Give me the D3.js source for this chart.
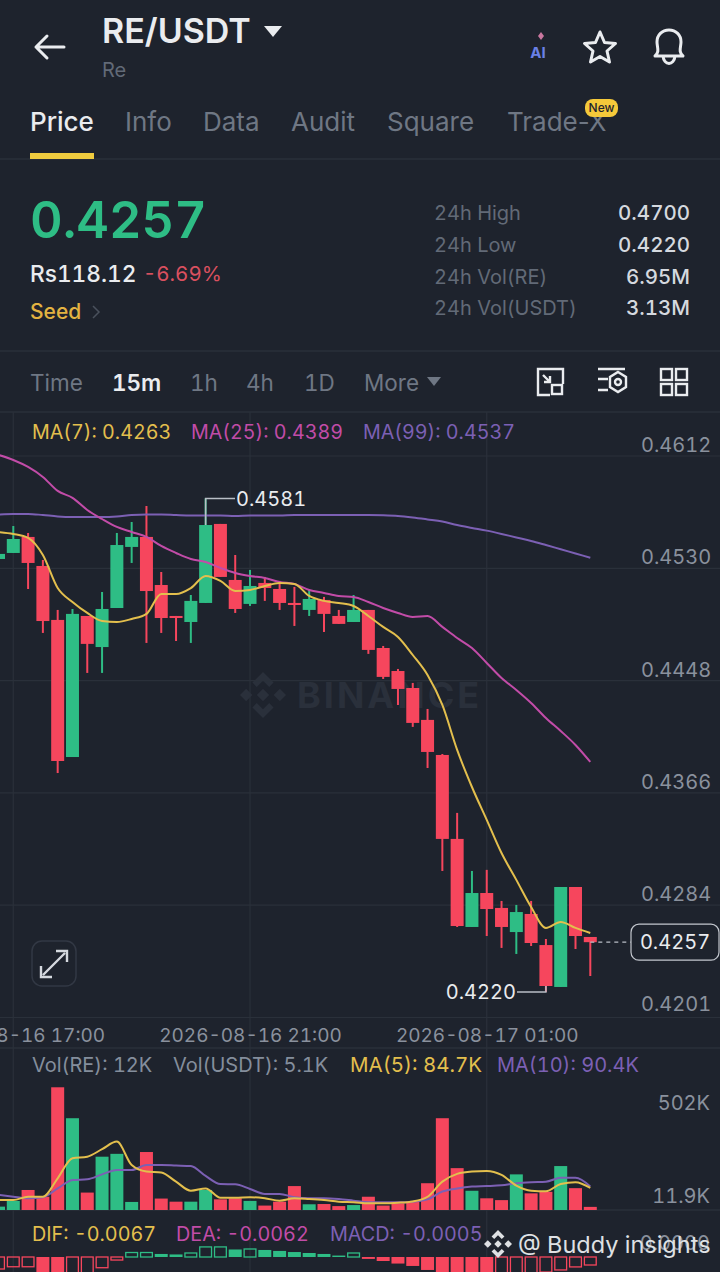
<!DOCTYPE html>
<html>
<head>
<meta charset="utf-8">
<script src="https://cdnjs.cloudflare.com/ajax/libs/d3/7.8.5/d3.min.js"></script>
<style>
html, body { margin: 0; padding: 0; background: #1e232d; overflow: hidden; }
svg { display: block; }
text { font-family: Inter, "Noto Sans", sans-serif; font-variant-numeric: tabular-nums; }
</style>
</head>
<body>
<div id="chart"></div>
<script>
// candles, 15m each
var opens = [.45368,.45412,.45529,.45317,.44923,.43922,.44952,.44725,.45010,.45456,.45529,.45178,.44952,.44908,.45047,.45624,.45215,.45040,.45193,.45149,.45047,.44996,.45069,.44952,.44908,.44996,.44718,.44550,.44426,.44193,.43937,.43324,.42681,.42929,.42820,.42644,.42776,.42549,.42243,.42973,.42608];
var closes = [.45405,.45514,.45339,.44915,.43893,.44967,.44748,.45003,.45470,.45529,.45134,.44937,.44937,.45062,.45616,.45237,.45003,.45171,.45156,.45047,.45032,.45076,.44967,.44894,.44996,.44704,.44507,.44419,.44171,.43959,.43324,.42688,.42929,.42812,.42681,.42790,.42564,.42250,.42973,.42615,.42570];
var highs = [.45419,.45609,.45558,.45361,.44996,.45003,.44952,.45127,.45558,.45638,.45755,.45273,.44952,.45105,.45810,.45624,.45397,.45288,.45237,.45208,.45164,.45142,.45091,.44996,.45105,.44996,.44733,.44565,.44463,.44273,.43944,.43514,.43090,.43098,.42871,.42842,.42871,.42593,.42973,.42973,.42608];
var lows = [.45354,.45412,.45149,.44828,.43805,.43922,.44536,.44536,.45010,.45339,.44755,.44828,.44769,.44755,.45047,.45237,.44974,.45025,.45062,.44996,.44879,.44952,.44835,.44894,.44908,.44675,.44492,.44302,.44142,.43842,.43090,.42681,.42681,.42615,.42528,.42484,.42542,.42206,.42243,.42520,.42323];

var ma7 = [.45565,.45551,.45522,.45397,.45156,.45054,.44974,.44915,.44908,.44930,.44967,.45113,.45113,.45156,.45244,.45208,.45134,.45142,.45171,.45193,.45186,.45098,.45062,.45047,.45025,.44952,.44872,.44799,.44667,.44521,.44302,.43974,.43703,.43463,.43221,.43025,.42827,.42674,.42718,.42674,.42637];
var ma25 = [.46128,.46091,.46040,.45967,.45865,.45814,.45726,.45660,.45602,.45565,.45529,.45463,.45412,.45368,.45346,.45302,.45266,.45244,.45229,.45200,.45186,.45142,.45120,.45098,.45091,.45054,.45010,.44974,.44945,.44952,.44872,.44791,.44718,.44609,.44499,.44412,.44317,.44207,.44112,.44010,.43886];
var ma99 = [.45693,.45697,.45697,.45689,.45679,.45675,.45675,.45675,.45679,.45689,.45693,.45693,.45689,.45686,.45686,.45686,.45682,.45686,.45686,.45686,.45689,.45689,.45689,.45689,.45689,.45689,.45687,.45682,.45671,.45657,.45642,.45616,.45595,.45575,.45551,.45525,.45500,.45470,.45439,.45408,.45377];

// volume in K
var volumes = [13,35,77,51,472,353,67,205,216,31,223,44,32,32,77,41,45,35,17,32,92,22,23,15,19,51,17,26,32,103,353,161,74,45,38,137,64,70,169,84,12];
var volMa5 = [38.5,38.5,51,51,122,199,205,234,263,173,148,144,109,74,83,47,47,49,45,36,45,42,38,32,30,26,26,28,33,51,109,139,148,150,135,94,74,72,100,107,84.7];
var volMa10 = [58,51,45,49,83,115,118,137,154,154,173,173,171,169,131,100,99,81,62,62,49,45,45,42,36,30,30,30,32,41,71,83,90,92,95,103,107,109,124,124,90.4];

var macdHist = [-.00075,-.00061,-.00061,-.00094,-.00113,-.00106,-.00100,-.00067,-.00019,.00028,.00028,.00019,.00016,.00025,.00063,.00063,.00047,.00050,.00044,.00038,.00031,.00025,.00019,.00009,.00025,-.00012,-.00025,-.00041,-.00056,-.00081,-.00094,-.00106,-.00113,-.00119,-.00113,-.00106,-.00100,-.00094,-.00081,-.00062,-.00050];

var priceTicks = [.4612,.4530,.4448,.4366,.4284,.4202];
var priceTickLabels = ["0.4612","0.4530","0.4448","0.4366","0.4284","0.4201"];
var volTickLabels = ["502K","11.9K"];
var timeTicks = ["2026-08-16T17:00Z","2026-08-16T21:00Z","2026-08-17T01:00Z"].map(function(d) { return new Date(d); });
var startTime = new Date("2026-08-16T16:45Z");
var times = opens.map(function(d, i) { return d3.utcMinute.offset(startTime, 15 * i); });

var tabs = ["Price","Info","Data","Audit","Square","Trade-X"];
var tabX = [30,125,203,291,387,507];
var intervals = ["Time","15m","1h","4h","1D","More"];
var intervalX = [30,112,190,246,304,364];
var statLabels = ["24h High","24h Low","24h Vol(RE)","24h Vol(USDT)"];
var statValues = ["0.4700","0.4220","6.95M","3.13M"];

var bg = "#1e232d", grid = "#2a303a", up = "#2ebd85", down = "#f6465d";
var cYellow = "#e3bf4d", cPink = "#c24ca8", cPurple = "#7c60b4", cGrey = "#848e9c", cDim = "#626a77", cAxis = "#8a919d";
var w = 720, h = 1272, candleW = 13;

var svg = d3.select("#chart").append("svg").attr("width", w).attr("height", h);
svg.append("rect").attr("width", w).attr("height", h).attr("fill", bg);

function txt(x, y, s, size, fill, weight, anchor) {
    return svg.append("text")
        .attr("x", x).attr("y", y)
        .attr("dy", "0.36em")
        .attr("font-size", size)
        .attr("fill", fill)
        .attr("font-weight", weight || 400)
        .attr("text-anchor", anchor || "start")
        .text(s);
}
function hline(y) {
    svg.append("line").attr("x1", 0).attr("x2", w).attr("y1", y).attr("y2", y).attr("stroke", grid).attr("stroke-width", 1.5);
}
// binance diamond mark, r is half its height
function logo(g, cx, cy, r) {
    var shapes = [
        [[0,-.27],[.27,0],[0,.27],[-.27,0]],
        [[-.73,-.27],[-.46,0],[-.73,.27],[-1,0]],
        [[.73,-.27],[1,0],[.73,.27],[.46,0]],
        [[0,-1],[.46,-.54],[.27,-.35],[0,-.62],[-.27,-.35],[-.46,-.54]],
        [[0,1],[.46,.54],[.27,.35],[0,.62],[-.27,.35],[-.46,.54]]
    ];
    shapes.forEach(function(s) {
        g.append("path").attr("d", d3.line().x(function(p) { return cx + p[0] * r; }).y(function(p) { return cy + p[1] * r; })(s) + "Z");
    });
}

// header
var icons = svg.append("g").attr("fill", "none").attr("stroke", "#eaecef").attr("stroke-width", 3).attr("stroke-linecap", "round").attr("stroke-linejoin", "round");
icons.append("path").attr("d", "M64 47H36M47 36L36 47L47 58");
txt(102, 31, "RE/USDT", 34, "#eaecef", 600);
svg.append("path").attr("d", "M264 26H282L273 37Z").attr("fill", "#eaecef");
txt(102, 70, "Re", 20, cDim);
txt(538, 53, "AI", 15, "#6a80e6", 700, "middle");
svg.append("path").attr("d", "M541 32L544 36L541 40L538 36Z").attr("fill", "#c9779f");
icons.append("path").attr("d", "M600 32L604.5 42.5L615.5 43.5L607 51L609.5 62L600 56.5L590.5 62L593 51L584.5 43.5L595.5 42.5Z");
icons.append("path").attr("d", "M655 56C660 52 657 47 657 42C657 35 662 30 669 30C676 30 681 35 681 42C681 47 678 52 683 56ZM663 56C664 66 674 66 675 56");

tabs.forEach(function(t, i) {
    txt(tabX[i], 122, t, 26, i == 0 ? "#eaecef" : "#6f7784", i == 0 ? 500 : 400)
        .style("font-variant-numeric", "normal");
});
svg.append("rect").attr("x", 585).attr("y", 99).attr("width", 33).attr("height", 18).attr("rx", 8).attr("fill", "#f5c93a");
txt(601.5, 108, "New", 12, "#1e232d", 500, "middle");
hline(159);
svg.append("rect").attr("x", 30).attr("y", 153).attr("width", 64).attr("height", 6).attr("fill", "#f0cc3f");

// price block
txt(30, 220, "0.4257", 50.5, up, 600);
txt(30, 274, "Rs118.12", 22.7, "#eaecef", 500);
txt(143, 274, "-6.69%", 20.5, "#d9505f");
txt(30, 311, "Seed", 21, "#e3b341", 500);
svg.append("path").attr("d", "M93 306L99 312L93 318").attr("fill", "none").attr("stroke", "#4a515c").attr("stroke-width", 1.5);
statLabels.forEach(function(t, i) {
    var yy = 213 + i * 31.7;
    txt(434, yy, t, 20, cDim);
    txt(690, yy, statValues[i], 20.5, "#d5d9df", 500, "end");
});
hline(351);

// interval row
intervals.forEach(function(t, i) {
    txt(intervalX[i], 383, t, 22.5, i == 1 ? "#eaecef" : "#6f7784", i == 1 ? 600 : 400);
});
svg.append("path").attr("d", "M427 377H441L434 386Z").attr("fill", "#6f7784");
var tools = svg.append("g").attr("fill", "none").attr("stroke", "#eaecef").attr("stroke-width", 2.4);
tools.append("path").attr("d", "M550 395H538V369H563V384M543 375L550 382M550 376V382H544");
tools.append("rect").attr("x", 552).attr("y", 385).attr("width", 10).attr("height", 9);
tools.append("path").attr("d", "M598 369H625M598 379H608M598 390H608");
tools.append("path").attr("d", "M618 372L626 377V387L618 392L610 387V377Z");
tools.append("circle").attr("cx", 618).attr("cy", 382).attr("r", 3);
[[661,369],[676,369],[661,384],[676,384]].forEach(function(p) {
    tools.append("rect").attr("x", p[0]).attr("y", p[1]).attr("width", 11).attr("height", 11);
});
hline(412);

// scales
var x = d3.scaleUtc().domain([times[0], times[times.length - 1]]).range([-1.5, 590.3]);
var y = d3.scaleLinear().domain([.4612, .4202]).range([456, 1017.5]);
var yVol = d3.scaleLinear().domain([0, 500]).range([1210, 1080]);
var yMacd = d3.scaleLinear().domain([0, -.001]).range([1257, 1273]);

// vertical grid
svg.append("g").selectAll("line").data(timeTicks).enter().append("line")
    .attr("x1", function(d) { return x(d); })
    .attr("x2", function(d) { return x(d); })
    .attr("y1", 412).attr("y2", h)
    .attr("stroke", grid).attr("stroke-width", 1.2);

// watermark
var wm = svg.append("g").attr("fill", "#2a303b");
logo(wm, 263, 695, 23);
wm.append("text").attr("x", 297).attr("y", 708).attr("font-size", 36).attr("font-weight", 700).attr("letter-spacing", 3).text("BINANCE");

// price axis
var yAxis = d3.axisRight(y).tickValues(priceTicks).tickSize(0).tickPadding(0)
    .tickFormat(function(d, i) { return priceTickLabels[i]; });
var gy = svg.append("g").attr("transform", "translate(641,0)").call(yAxis);
gy.select(".domain").remove();
gy.selectAll("text").attr("font-size", 20).attr("fill", cAxis).attr("dy", function(d, i) { return i == 5 ? "-0.35em" : "-0.22em"; }).attr("font-family", "Inter");
svg.append("g").selectAll("line").data(priceTicks).enter().append("line")
    .attr("x1", 0).attr("x2", w)
    .attr("y1", function(d) { return y(d); })
    .attr("y2", function(d) { return y(d); })
    .attr("stroke", grid).attr("stroke-width", 1.2);

// time axis
var xAxis = d3.axisBottom(x).tickValues(timeTicks).tickSize(0).tickPadding(0).tickFormat(d3.utcFormat("%Y-%m-%d %H:%M"));
var gx = svg.append("g").attr("transform", "translate(0,1028)").call(xAxis);
gx.select(".domain").remove();
gx.selectAll("text").attr("font-size", 19).attr("fill", cAxis).attr("font-family", "Inter");
hline(1048);

// candles
var idx = d3.range(opens.length);
function candleColor(i) { return closes[i] >= opens[i] ? up : down; }
var candles = svg.append("g");
candles.selectAll("line").data(idx).enter().append("line")
    .attr("x1", function(i) { return x(times[i]); })
    .attr("x2", function(i) { return x(times[i]); })
    .attr("y1", function(i) { return y(highs[i]); })
    .attr("y2", function(i) { return y(lows[i]); })
    .attr("stroke", candleColor).attr("stroke-width", 2);
candles.selectAll("rect").data(idx).enter().append("rect")
    .attr("x", function(i) { return x(times[i]) - candleW / 2; })
    .attr("y", function(i) { return y(Math.max(opens[i], closes[i])); })
    .attr("width", candleW)
    .attr("height", function(i) { return Math.max(1.5, Math.abs(y(opens[i]) - y(closes[i]))); })
    .attr("fill", candleColor);

function drawLine(vals, yScale, color, sw) {
    var line = d3.line()
        .x(function(d, i) { return x(times[i]); })
        .y(function(d) { return yScale(d); })
        .curve(d3.curveMonotoneX);
    svg.append("path").datum(vals).attr("d", line).attr("fill", "none").attr("stroke", color).attr("stroke-width", sw || 2);
}
drawLine(ma99, y, cPurple);
drawLine(ma25, y, cPink);
drawLine(ma7, y, cYellow);

// legends
txt(32, 432, "MA(7): 0.4263", 19.7, cYellow);
txt(191, 432, "MA(25): 0.4389", 19.7, cPink);
txt(363, 432, "MA(99): 0.4537", 19.7, cPurple);

// high / low / last markers
var leader = svg.append("g").attr("fill", "none").attr("stroke", "#b9bec6").attr("stroke-width", 1.5);
leader.append("path").attr("d", d3.line()([[x(times[14]), y(closes[14])], [x(times[14]), y(highs[14])], [235, y(highs[14])]]));
txt(236, y(highs[14]), "0.4581", 20, "#eaecef");
leader.append("path").attr("d", d3.line()([[x(times[37]), y(closes[37])], [x(times[37]), y(lows[37])], [517, y(lows[37])]]));
txt(516, y(lows[37]), "0.4220", 20, "#eaecef", 400, "end");
svg.append("line").attr("x1", x(times[40])).attr("x2", 631).attr("y1", y(closes[40])).attr("y2", y(closes[40]))
    .attr("stroke", "#b9bec6").attr("stroke-width", 1.2).attr("stroke-dasharray", "4 4");
svg.append("rect").attr("x", 631).attr("y", y(closes[40]) - 18).attr("width", 88).attr("height", 36).attr("rx", 8)
    .attr("fill", bg).attr("stroke", "#c3c7ce").attr("stroke-width", 1.2);
txt(675, y(closes[40]), "0.4257", 20, "#eaecef", 400, "middle");

// expand button
svg.append("rect").attr("x", 32).attr("y", 941).attr("width", 44).attr("height", 45).attr("rx", 10)
    .attr("fill", "none").attr("stroke", "#323844").attr("stroke-width", 1.5);
svg.append("path").attr("d", "M43 975L65 953M56 951H67V962M41 966V977H52")
    .attr("fill", "none").attr("stroke", "#d5d9df").attr("stroke-width", 2.4);

// volume
txt(32, 1065, "Vol(RE): 12K", 20, cGrey);
txt(173, 1065, "Vol(USDT): 5.1K", 20, cGrey);
txt(350, 1065, "MA(5): 84.7K", 20.5, cYellow);
txt(497, 1065, "MA(10): 90.4K", 20, cPurple);
txt(710, 1103, volTickLabels[0], 20, cAxis, 400, "end");
txt(710, 1196, volTickLabels[1], 20, cAxis, 400, "end");
hline(yVol(0));
svg.append("g").selectAll("rect").data(idx).enter().append("rect")
    .attr("x", function(i) { return x(times[i]) - candleW / 2; })
    .attr("y", function(i) { return yVol(volumes[i]); })
    .attr("width", candleW)
    .attr("height", function(i) { return yVol(0) - yVol(volumes[i]); })
    .attr("fill", candleColor);
drawLine(volMa10, yVol, cPurple);
drawLine(volMa5, yVol, cYellow);

// macd, rising bars are drawn hollow
txt(32, 1234, "DIF: -0.0067", 19.8, cYellow);
txt(176, 1234, "DEA: -0.0062", 19.8, cPink);
txt(330, 1234, "MACD: -0.0005", 19.8, cPurple);
txt(710, 1243, "0.0000", 20, cAxis, 400, "end");
function hollow(i) { return i == 0 || macdHist[i] >= macdHist[i - 1]; }
svg.append("g").selectAll("rect").data(idx).enter().append("rect")
    .attr("x", function(i) { return x(times[i]) - candleW / 2 + (hollow(i) ? 0.6 : 0); })
    .attr("y", function(i) { return Math.min(yMacd(0), yMacd(macdHist[i])); })
    .attr("width", function(i) { return candleW - (hollow(i) ? 1.2 : 0); })
    .attr("height", function(i) { return Math.abs(yMacd(macdHist[i]) - yMacd(0)); })
    .attr("fill", function(i) { return hollow(i) ? "none" : (macdHist[i] >= 0 ? up : down); })
    .attr("stroke", function(i) { return hollow(i) ? (macdHist[i] >= 0 ? up : down) : "none"; })
    .attr("stroke-width", 1.3);

// site watermark over the bottom corner
var mark = svg.append("g").attr("fill", "#dfe1e4");
logo(mark, 498, 1244, 14);
txt(518, 1245, "@ Buddy insights", 23.5, "#dfe1e4");
</script>
</body>
</html>
